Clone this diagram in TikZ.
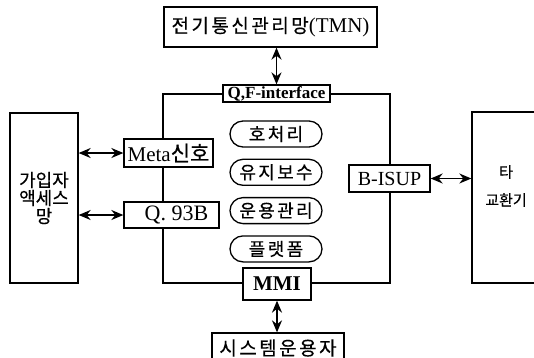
\documentclass[tikz,border=0pt]{standalone}
\usepackage{fontspec}
\setmainfont{Liberation Serif}
\newfontfamily\kr[FakeBold=0.4]{Noto Sans CJK KR}
\newfontfamily\krwide[LetterSpace=13,FakeBold=0.4]{Noto Sans CJK KR}
\usetikzlibrary{arrows.meta,positioning,shapes.misc}

\begin{document}
\begin{tikzpicture}[x=1pt,y=-1pt,
    box/.style={draw, line width=1.3pt, fill=white, inner sep=1pt},
    pill/.style={draw, line width=1.3pt, rounded rectangle, minimum width=94pt, minimum height=26pt, inner sep=1pt},
    dbl/.style={line width=1.5pt, {Stealth[length=12pt,width=10pt]}-{Stealth[length=12pt,width=10pt]}},
    txt/.style={font=\fontsize{20}{22}\selectfont},
    krtxt/.style={font=\krwide\fontsize{18}{20}\selectfont}]
    \useasboundingbox (0,0) rectangle (534,357);
    \clip (0,0) rectangle (534,357);

    % switching system frame
    \node[draw, line width=1.3pt, minimum width=227pt, minimum height=189pt] (sw) at (276.5,188.5) {};

    \node[box, font=\fontsize{21}{22}\selectfont, minimum width=213pt, minimum height=40pt] (tmn) at (270.5,27) {{\krwide\fontsize{19}{20}\selectfont 전기통신관리망}(TMN)};
    \node[box, font=\bfseries\fontsize{17}{18}\selectfont, minimum width=107pt, minimum height=17pt] (qf) at (276.5,93.5) {Q,F-interface};
    \node[box, font=\fontsize{21}{22}\selectfont, minimum width=89pt, minimum height=28pt] (meta) at (168.5,153) {Meta{\kr 신호}};
    \node[box, font=\fontsize{22}{22}\selectfont, minimum width=95pt, minimum height=26pt] (q93) at (171.5,215) {\hspace*{10pt}Q. 93B};
    \node[box, txt, minimum width=81pt, minimum height=27pt] (bisup) at (389.5,178.5) {B-ISUP};
    \node[box, font=\bfseries\fontsize{21}{22}\selectfont, minimum width=68pt, minimum height=32pt] (mmi) at (277,284) {MMI};

    % functions
    \node[pill, krtxt] (call) at (276,134) {호처리};
    \node[pill, krtxt, below=11pt of call] (maint) {유지보수};
    \node[pill, krtxt, below=11pt of maint] (oper) {운용관리};
    \node[pill, krtxt, below=11pt of oper] (plat) {플랫폼};

    % outside
    \node[box, font=\kr\fontsize{18}{18}\selectfont, align=center, minimum width=68pt, minimum height=170pt] (acc) at (44,198) {가입자\\액세스\\망};
    \node[box, minimum width=90pt, minimum height=171pt] (oth) at (517,197.5) {};
    \node[font=\kr\fontsize{15}{28}\selectfont, align=center] (othtxt) at (506,186) {타\\교환기};
    \node[box, font=\krwide\fontsize{19}{20}\selectfont, minimum width=132pt, minimum height=30pt] (op) at (278,348) {시스템운용자};

    \draw[dbl] (tmn.south -| qf) -- (qf.north);
    \draw[dbl] (mmi.south) -- (op.north -| mmi);
    \draw[dbl] (acc.east |- meta) -- (meta.west);
    \draw[dbl] (acc.east |- q93) -- (q93.west);
    \draw[dbl] (bisup.east) -- (oth.west |- bisup);
\end{tikzpicture}
\end{document}
